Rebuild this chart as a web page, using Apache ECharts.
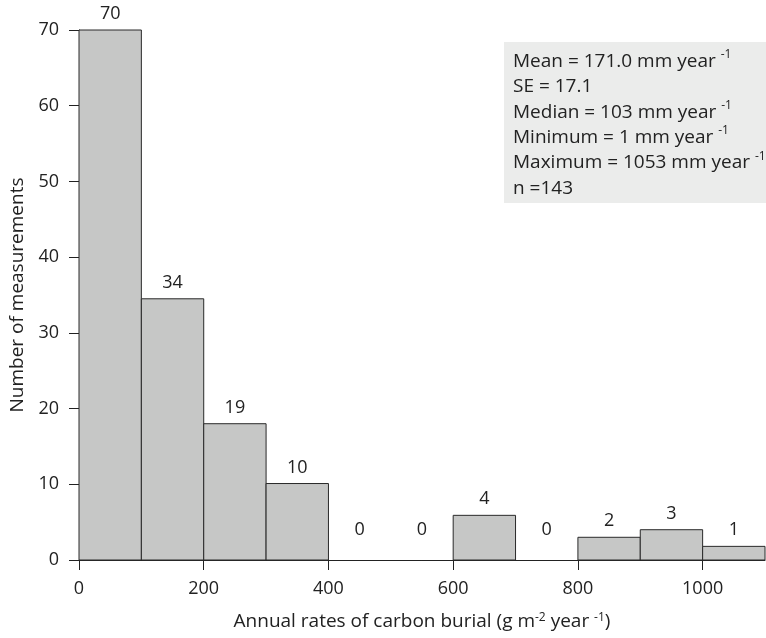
<!DOCTYPE html>
<html><head><meta charset="utf-8">
<script src="https://cdn.jsdelivr.net/npm/echarts@6/dist/echarts.min.js"></script>
<style>html,body{margin:0;padding:0;background:#fff}#c{width:766px;height:638px}</style>
</head><body><div id="c"></div>
<script>
const binStart = [0, 100, 200, 300, 400, 500, 600, 700, 800, 900, 1000];
const binWidth = 100;
const counts = [70, 34.5, 18, 10.1, 0, 0, 5.9, 0, 3, 4, 1.8];
const countLabels = ['70', '34', '19', '10', '0', '0', '4', '0', '2', '3', '1'];
const yTicks = [0, 10, 20, 30, 40, 50, 60, 70];
const xTicks = [0, 200, 400, 600, 800, 1000];
const statLines = [
  ['Mean = 171.0 mm year ', '-1'],
  ['SE = 17.1', ''],
  ['Median = 103 mm year ', '-1'],
  ['Minimum = 1 mm year ', '-1'],
  ['Maximum = 1053 mm year ', '-1'],
  ['n =143', '']
];

const FONT = 'Open Sans';
const chart = echarts.init(document.getElementById('c'));
const data = binStart.map((s, i) => [s, counts[i], i]);

const statText = statLines.map(l => '{n|' + l[0] + '}' + (l[1] ? '{s|' + l[1] + '}' : '')).join('\n');

chart.setOption({
  animation: false,
  textStyle: { fontFamily: FONT },
  grid: { left: 77, right: 1, top: 30, bottom: 78 },
  xAxis: {
    type: 'value', min: 0, max: 1100, interval: 200,
    splitLine: { show: false },
    axisLine: { show: true, lineStyle: { color: '#222', width: 1 } },
    axisTick: { show: true, length: 10, lineStyle: { color: '#222' } },
    axisLabel: { color: '#222', fontSize: 18, margin: 20, fontFamily: FONT,
      showMaxLabel: false, formatter: v => String(v) },
    name: 'Annual rates of carbon burial (g m{s|-2} year {s|-1})',
    nameLocation: 'middle', nameGap: 52,
    nameTextStyle: { color: '#222', fontSize: 19, fontFamily: FONT,
      rich: { s: { fontSize: 12, fontFamily: FONT, color: '#222', verticalAlign: 'top', lineHeight: 10 } } }
  },
  yAxis: {
    type: 'value', min: 0, max: 70, interval: 10,
    splitLine: { show: false },
    axisLine: { show: true, lineStyle: { color: '#222', width: 1 } },
    axisTick: { show: true, length: 10, lineStyle: { color: '#222' } },
    axisLabel: { color: '#222', fontSize: 18, margin: 20, fontFamily: FONT },
    name: 'Number of measurements', nameLocation: 'middle', nameGap: 52,
    nameTextStyle: { color: '#222', fontSize: 19, fontFamily: FONT }
  },
  graphic: [
    { type: 'rect', shape: { x: 504, y: 42, width: 262, height: 161 }, style: { fill: '#ebeceb' }, z: 1 },
    { type: 'text', x: 513, y: 49, z: 2, style: {
      text: statText, fill: '#222', font: '19px ' + FONT,
      rich: {
        n: { fontSize: 19, fontFamily: FONT, lineHeight: 25.3, fill: '#222' },
        s: { fontSize: 12, fontFamily: FONT, lineHeight: 10, verticalAlign: 'top', fill: '#222' }
      }
    } }
  ],
  series: [{
    type: 'custom',
    data: data,
    encode: { x: 0, y: 1 },
    clip: false,
    renderItem: function (params, api) {
      const s = api.value(0), v = api.value(1), idx = api.value(2);
      const p0 = api.coord([s, 0]);
      const p1 = api.coord([s + binWidth, v]);
      const children = [];
      if (v > 0) {
        children.push({ type: 'rect',
          shape: { x: p0[0], y: p1[1], width: p1[0] - p0[0], height: p0[1] - p1[1] },
          style: { fill: '#c6c7c6', stroke: '#2a2a2a', lineWidth: 1 } });
      }
      const cx = (p0[0] + p1[0]) / 2;
      const ty = v > 0 ? p1[1] - 16 : p0[1] - 30;
      children.push({ type: 'text', style: { text: countLabels[idx], x: cx, y: ty,
        align: 'center', verticalAlign: 'middle', fill: '#222', font: '18px ' + FONT } });
      return { type: 'group', children: children };
    }
  }]
});
</script></body></html>
